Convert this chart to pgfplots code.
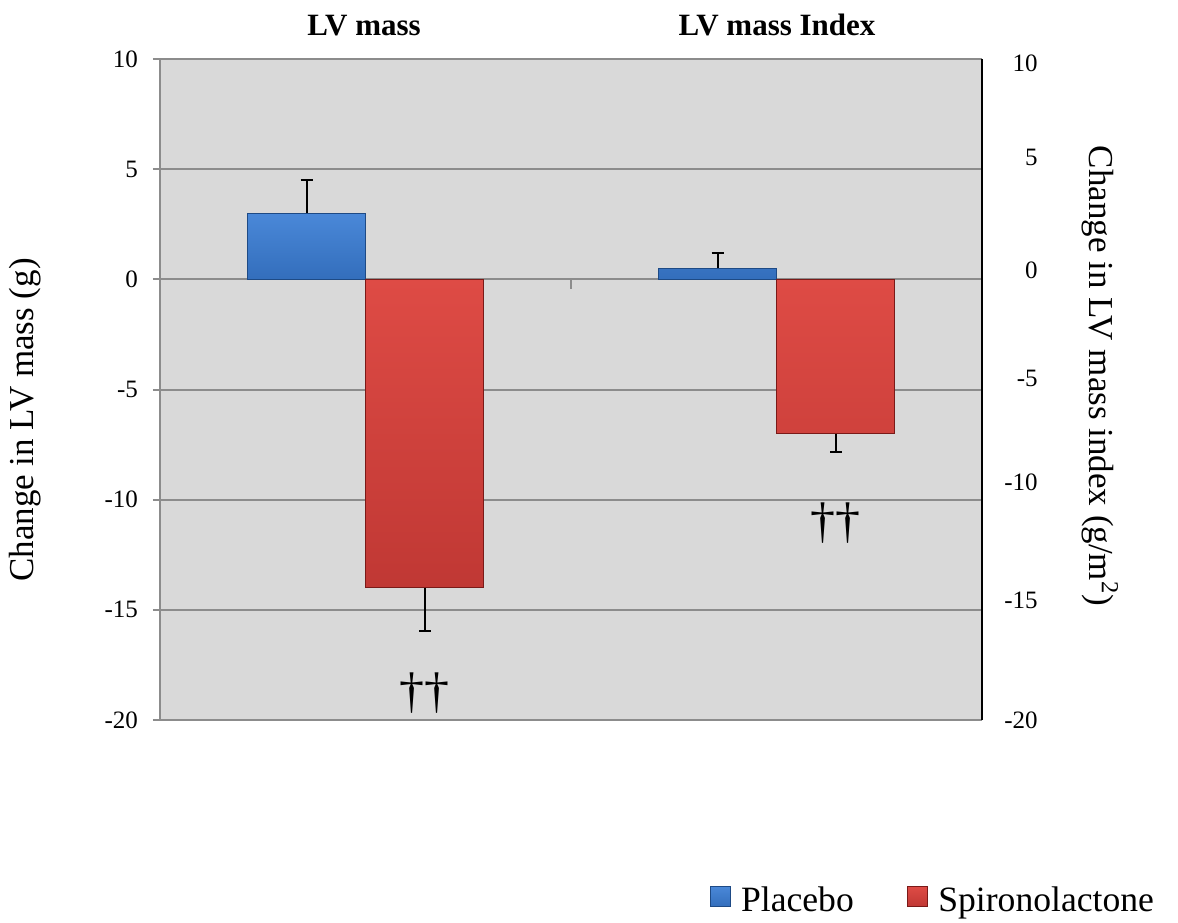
\documentclass[border=0pt]{standalone}
\usepackage{pgfplots}
\pgfplotsset{compat=1.18}
\usepackage{fontspec}
\setmainfont{Liberation Serif}
\definecolor{bggray}{HTML}{D9D9D9}
\definecolor{gridgray}{HTML}{8C8C8C}
\definecolor{blueT}{HTML}{4A88D8}
\definecolor{blueB}{HTML}{336EBC}
\definecolor{blueE}{HTML}{1E4A85}
\definecolor{redT}{HTML}{DE4B45}
\definecolor{redB}{HTML}{C03834}
\definecolor{redE}{HTML}{7A1A18}
\pgfplotsset{sqlegend/.style={legend image code/.code={\path[draw=none,fill=none,shade=false] (0pt,0pt) rectangle (13.5pt,0.1pt);\draw[##1] (0pt,-2.7pt) rectangle (10pt,7.3pt);}}}
\begin{document}
\begin{tikzpicture}
\path[use as bounding box] (0pt,0pt) rectangle (589pt,-461pt);
\begin{axis}[
  at={(80pt,-360pt)}, anchor=south west,
  scale only axis, width=411pt, height=330.5pt,
  xmin=0.5, xmax=2.5, ymin=-20, ymax=10,
  axis background/.style={fill=bggray},
  axis x line=none,
  axis y line*=left,
  y axis line style={gridgray, line width=1pt},
  ytick={-20,-15,-10,-5,0,5,10},
  yticklabels={-20,-15,-10,-5,0,5,10},
  /pgf/number format/assume math mode=true,
  yticklabel style={font=\fontsize{12.5pt}{14pt}\selectfont, xshift=-4pt},
  tick align=outside, major tick length=3.5pt,
  tick style={gridgray, line width=1pt},
  ymajorgrids, grid style={gridgray, line width=1pt},
  xtick=\empty,
  ybar=0pt, bar width=59pt,
  legend columns=2,
  legend style={at={(0.6607,-0.2738)}, anchor=west, draw=none, fill=none,
    font=\fontsize{17.8pt}{20pt}\selectfont,
    /tikz/every even column/.append style={column sep=24.5pt}},
  legend cell align=left,
]
\addplot[top color=blueT, bottom color=blueB, draw=blueE, line width=0.6pt, sqlegend,
  error bars/.cd, y dir=plus, y explicit,
  error bar style={black, line width=1pt},
  error mark options={rotate=90, mark size=3pt, line width=1pt, black}]
  coordinates {(1,3.0) +- (0,1.5) (2,0.5) +- (0,0.7)};
\addplot[top color=redT, bottom color=redB, draw=redE, line width=0.6pt, sqlegend,
  error bars/.cd, y dir=minus, y explicit,
  error bar style={black, line width=1pt},
  error mark options={rotate=90, mark size=3pt, line width=1pt, black}]
  coordinates {(1,-14.0) +- (0,1.95) (2,-7.0) +- (0,0.85)};
\legend{Placebo, Spironolactone}
\draw[gridgray, line width=1pt] (axis cs:1.5,0) -- ([yshift=-5pt]axis cs:1.5,0);
\node[font=\fontsize{25pt}{27pt}\selectfont] at ([xshift=29.5pt]axis cs:1,-18.77) {††};
\node[font=\fontsize{25pt}{27pt}\selectfont] at ([xshift=29.5pt]axis cs:2,-11.05) {††};
\end{axis}
\begin{axis}[
  at={(80pt,-360pt)}, anchor=south west,
  scale only axis, width=411pt, height=330.5pt,
  xmin=0.5, xmax=2.5, ymin=-20, ymax=10,
  axis x line=none,
  axis y line*=right,
  y axis line style={black, line width=1pt},
  major tick length=0pt,
  ytick={9.8,5.52,0.41,-4.5,-9.23,-14.55,-20},
  yticklabels={10,5,0,-5,-10,-15,-20},
  /pgf/number format/assume math mode=true,
  yticklabel style={font=\fontsize{12.5pt}{14pt}\selectfont, anchor=east, inner sep=0pt, xshift=28pt},
]
\addplot[draw=none, forget plot] coordinates {(1,0)};
\end{axis}
\node[rotate=90, font=\fontsize{17.5pt}{20pt}\selectfont] at (12.5pt,-210pt) {Change in LV mass (g)};
\node[rotate=-90, font=\fontsize{17.5pt}{20pt}\selectfont] at (550pt,-188pt) {Change in LV mass index (g/m\textsuperscript{2})};
\node[anchor=base, font=\fontsize{15.5pt}{18pt}\selectfont\bfseries] at (182pt,-17.5pt) {LV mass};
\node[anchor=base, font=\fontsize{15.5pt}{18pt}\selectfont\bfseries] at (388.5pt,-17.5pt) {LV mass Index};
\end{tikzpicture}
\end{document}
